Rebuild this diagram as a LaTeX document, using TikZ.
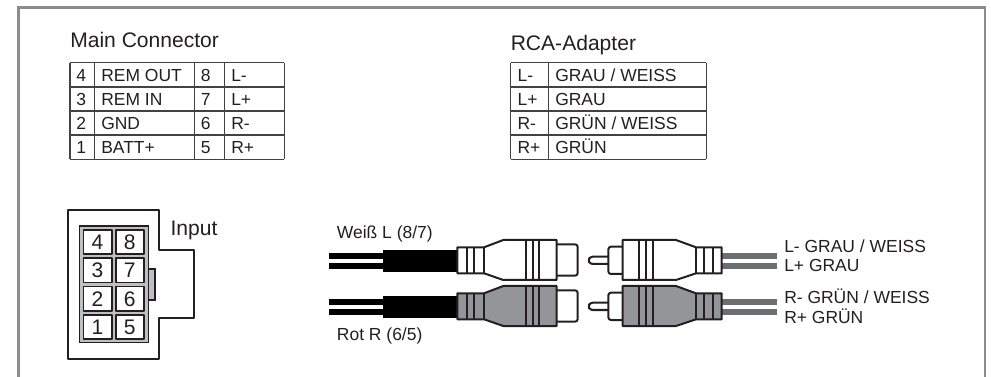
\documentclass[tikz,border=0pt]{standalone}
\usepackage{fontspec}
\setmainfont{Liberation Sans}
\definecolor{framegray}{HTML}{8A8C8E}
\definecolor{plugfill}{HTML}{939598}
\definecolor{wiregray}{HTML}{6D6E71}
\definecolor{inkblack}{HTML}{231F20}
\tikzset{
  title/.style={anchor=base west, inner sep=0pt, text=inkblack, font=\fontsize{15.8pt}{18pt}\selectfont},
  cell/.style={anchor=base west, inner sep=0pt, text=inkblack, font=\fontsize{13.1pt}{15pt}\selectfont},
  pinnum/.style={inner sep=0pt, text=inkblack, font=\fontsize{15.8pt}{18pt}\selectfont},
  rule/.style={draw=inkblack!85, line width=0.9pt},
  outline/.style={draw=inkblack, line width=1.5pt, line join=round}
}
\begin{document}
\begin{tikzpicture}[x=0.75pt, y=-0.75pt]
\useasboundingbox (0,0) rectangle (991,377);
\draw[framegray, line width=1.6pt] (18.5,377) -- (18.5,7.5) -- (985,7.5) -- (985,377);

\node[title] (maintitle) at (70,48) {Main Connector};
\node[title] (rcatitle) at (510.5,51) {RCA-Adapter};

% main connector table
\foreach \y in {62.7,87,111,135,159.3}
    \draw[rule] (70,\y) -- (284.3,\y);
\foreach \x in {70,94.3,194.3,224.3,284.3}
    \draw[rule] (\x,62.7) -- (\x,159.3);
\foreach \r/\a/\b/\c/\d in {0/4/REM OUT/8/L-,1/3/REM IN/7/L+,2/2/GND/6/R-,3/1/BATT+/5/R+} {
    \node[cell] (mainA\r) at (76,{82+24*\r}) {\a};
    \node[cell] (mainB\r) at (101,{82+24*\r}) {\b};
    \node[cell] (mainC\r) at (200.7,{82+24*\r}) {\c};
    \node[cell] (mainD\r) at (231,{82+24*\r}) {\d};
}

% rca table
\foreach \y in {62.7,87,111,135,159.3}
    \draw[rule] (510.7,\y) -- (706.3,\y);
\foreach \x in {510.7,548.3,706.3}
    \draw[rule] (\x,62.7) -- (\x,159.3);
\foreach \r/\a/\b in {0/L-/{GRAU / WEISS},1/L+/GRAU,2/R-/{GRÜN / WEISS},3/R+/GRÜN} {
    \node[cell] (rcaA\r) at (517.3,{82+24*\r}) {\a};
    \node[cell] (rcaB\r) at (555,{82+24*\r}) {\b};
}

% input plug
\draw[outline] (68.3,210) -- (159,210) -- (159,250) -- (194.3,250) -- (194.3,317.7) -- (159,317.7) -- (159,358.7) -- (68.3,358.7) -- cycle;
\draw[inkblack, line width=1pt, fill=plugfill!60] (79.7,226) rectangle (148.3,342.7);
\draw[inkblack, line width=1pt, fill=plugfill!60] (148.3,269) rectangle (155,300);
\foreach \r/\a/\b in {0/4/8,1/3/7,2/2/6,3/1/5} {
    \draw[outline, line width=1.2pt, fill=white] (83.3,{230+28.3*\r}) rectangle (111.7,{254.3+28.3*\r});
    \draw[outline, line width=1.2pt, fill=white] (115.7,{230+28.3*\r}) rectangle (144,{254.3+28.3*\r});
    \node[pinnum] (pinL\r) at (97.5,{242.2+28.3*\r}) {\a};
    \node[pinnum] (pinR\r) at (129.8,{242.2+28.3*\r}) {\b};
}
\node[title] (input) at (170.3,235.7) {Input};

% cables and plugs
\foreach \dy/\col in {0/white,46/plugfill} {
    \begin{scope}[yshift=\dy*-0.75pt]
    % female side
    \fill[black] (329.3,252.7) rectangle (383.3,259.3);
    \fill[black] (329.3,262.7) rectangle (383.3,269.3);
    \fill[black] (383.3,250) rectangle (457.3,272.3);
    \draw[outline, fill=white, rounded corners=2pt] (556.7,244.3) -- (577.7,244.3) -- (577.7,275.7) -- (556.7,275.7);
    \draw[outline, fill=\col] (457.3,247.3) -- (484,247.3) -- (503.3,240) -- (556.7,240) -- (556.7,280) -- (503.3,280) -- (484,273.3) -- (457.3,273.3) -- cycle;
    \draw[outline] (484,247.3) -- (484,273.3);
    \foreach \x in {466.7,474,526,532.7,539.3}
        \draw[inkblack, line width=1.5pt] (\x,{\x<500 ? 247.3 : 240}) -- (\x,{\x<500 ? 273.3 : 280});
    % male side
    \fill[wiregray] (721.7,252.7) rectangle (777.3,259.3);
    \fill[wiregray] (721.7,262.7) rectangle (777.3,269.3);
    \draw[outline, fill=white, rounded corners=2pt] (608.3,256.7) -- (590,256.7) -- (588.3,260.3) -- (590,264) -- (608.3,264);
    \draw[outline, fill=white, rounded corners=2pt] (622.7,246.7) -- (608.3,246.7) -- (608.3,274) -- (622.7,274);
    \draw[outline, fill=\col] (622.7,240) -- (676,240) -- (696,247.3) -- (721.7,247.3) -- (721.7,273.3) -- (696,273.3) -- (676,280) -- (622.7,280) -- cycle;
    \draw[outline] (696,247.3) -- (696,273.3);
    \foreach \x in {639.3,646,652.7,704.3,713.3}
        \draw[inkblack, line width=1.5pt] (\x,{\x>690 ? 247.3 : 240}) -- (\x,{\x>690 ? 273.3 : 280});
    \end{scope}
}

\node[cell] (weiss) at (336.7,239) {Weiß L (8/7)};
\node[cell] (rot) at (336.7,340.7) {Rot R (6/5)};
\node[cell] (lminus) at (784,253) {L- GRAU / WEISS};
\node[cell] (lplus) at (784,272) {L+ GRAU};
\node[cell] (rminus) at (784,304) {R- GRÜN / WEISS};
\node[cell] (rplus) at (784,323) {R+ GRÜN};
\end{tikzpicture}
\end{document}
